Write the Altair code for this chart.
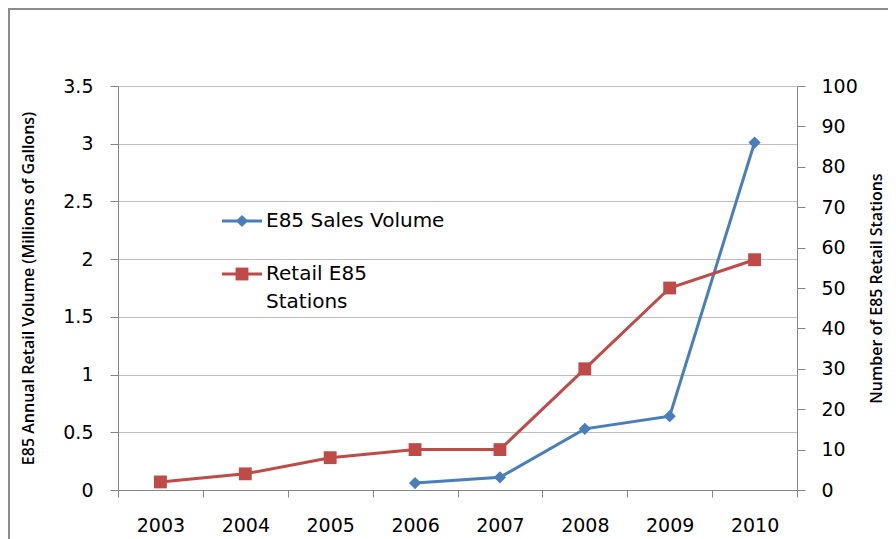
import altair as alt
import pandas as pd

years = ["2003", "2004", "2005", "2006", "2007", "2008", "2009", "2010"]
sales_years = ["2006", "2007", "2008", "2009", "2010"]
sales_volume = [0.06, 0.11, 0.53, 0.64, 3.01]
station_years = ["2003", "2004", "2005", "2006", "2007", "2008", "2009", "2010"]
stations = [2, 4, 8, 10, 10, 30, 50, 57]
series_names = ["E85 Sales Volume", "Retail E85\nStations"]
colors = ["#4A7EBB", "#BE4B48"]
left_ticks = [0, 0.5, 1, 1.5, 2, 2.5, 3, 3.5]
right_ticks = [0, 10, 20, 30, 40, 50, 60, 70, 80, 90, 100]

FONT = "DejaVu Sans"
TFONT = "Open Sans"
AXC = "#868686"
LFS = 19

sales_df = pd.DataFrame({"Year": sales_years, "Volume": sales_volume})
stat_df = pd.DataFrame({"Year": station_years, "Stations": stations})

xenc = alt.X(
    "Year:O",
    bandPosition=0.5,
    scale=alt.Scale(type="band", domain=years, paddingInner=0, paddingOuter=0),
    axis=alt.Axis(
        title=None, labelAngle=0, tickBand="extent", domainColor=AXC, tickColor=AXC,
        tickSize=7, labelPadding=19, labelFont=FONT, labelFontSize=LFS, labelColor="#000",
        grid=False,
    ),
)

sales = alt.Chart(sales_df).mark_line(
    color=colors[0], strokeWidth=3,
    point=alt.OverlayMarkDef(shape="diamond", size=150, filled=True, color=colors[0], opacity=1),
).encode(
    x=xenc,
    y=alt.Y(
        "Volume:Q",
        scale=alt.Scale(domain=[0, 3.5], nice=False, zero=True),
        axis=alt.Axis(
            values=left_ticks, title="E85 Annual Retail Volume (Millions of Gallons)",
            titleFont=TFONT, titleFontSize=16, titleFontWeight=600, titleColor="#000",
            titleAngle=270, titleX=-90, titleY=202, titleAlign="center", titleBaseline="middle",
            labelFont=FONT, labelFontSize=LFS, labelColor="#000", labelPadding=17,
            domainColor=AXC, tickColor=AXC, tickSize=8, grid=True, gridColor="#BFBFBF",
            labelExpr="datum.value",
        ),
    ),
)

stat = alt.Chart(stat_df).mark_line(
    color=colors[1], strokeWidth=3,
    point=alt.OverlayMarkDef(shape="square", size=165, filled=True, color=colors[1], opacity=1),
).encode(
    x=xenc,
    y=alt.Y(
        "Stations:Q",
        scale=alt.Scale(domain=[0, 100], nice=False),
        axis=alt.Axis(
            orient="right", values=right_ticks, title="Number of E85 Retail Stations",
            titleFont=TFONT, titleFontSize=16, titleFontWeight=600, titleColor="#000",
            titleAngle=270, titleX=79, titleY=202, titleAlign="center", titleBaseline="middle",
            labelFont=FONT, labelFontSize=LFS, labelColor="#000", labelPadding=16,
            domainColor=AXC, tickColor=AXC, tickSize=8, grid=False,
        ),
    ),
)

one = pd.DataFrame({"k": [0]})

frame = alt.Chart(one).mark_rect(fill=None, stroke="#8C8C8C", strokeWidth=2).encode(
    x=alt.value(-109), x2=alt.value(1200), y=alt.value(-77), y2=alt.value(1000)
)

legend_layers = []
leg_y = [135, 188]
shapes = ["diamond", "square"]
sizes = [150, 165]
for i in range(2):
    legend_layers.append(
        alt.Chart(one).mark_rule(color=colors[i], strokeWidth=3).encode(
            x=alt.value(104), x2=alt.value(144), y=alt.value(leg_y[i])
        )
    )
    legend_layers.append(
        alt.Chart(one).mark_point(shape=shapes[i], size=sizes[i], filled=True, color=colors[i], opacity=1).encode(
            x=alt.value(124), y=alt.value(leg_y[i])
        )
    )
    legend_layers.append(
        alt.Chart(one).mark_text(
            align="left", baseline="middle", font=FONT, fontSize=20, color="#000",
            lineBreak="\n", lineHeight=28,
        ).encode(
            x=alt.value(148), y=alt.value(leg_y[i]), text=alt.value(series_names[i])
        )
    )

chart = alt.layer(sales, stat, frame, *legend_layers).resolve_scale(y="independent").properties(
    width=679, height=404,
    autosize=alt.AutoSizeParams(type="none"),
    padding={"left": 110, "top": 78, "right": 91, "bottom": 49},
).configure_view(stroke=None).configure(background="white")

chart.save("out.html", embed_options={"renderer": "svg", "actions": False})
